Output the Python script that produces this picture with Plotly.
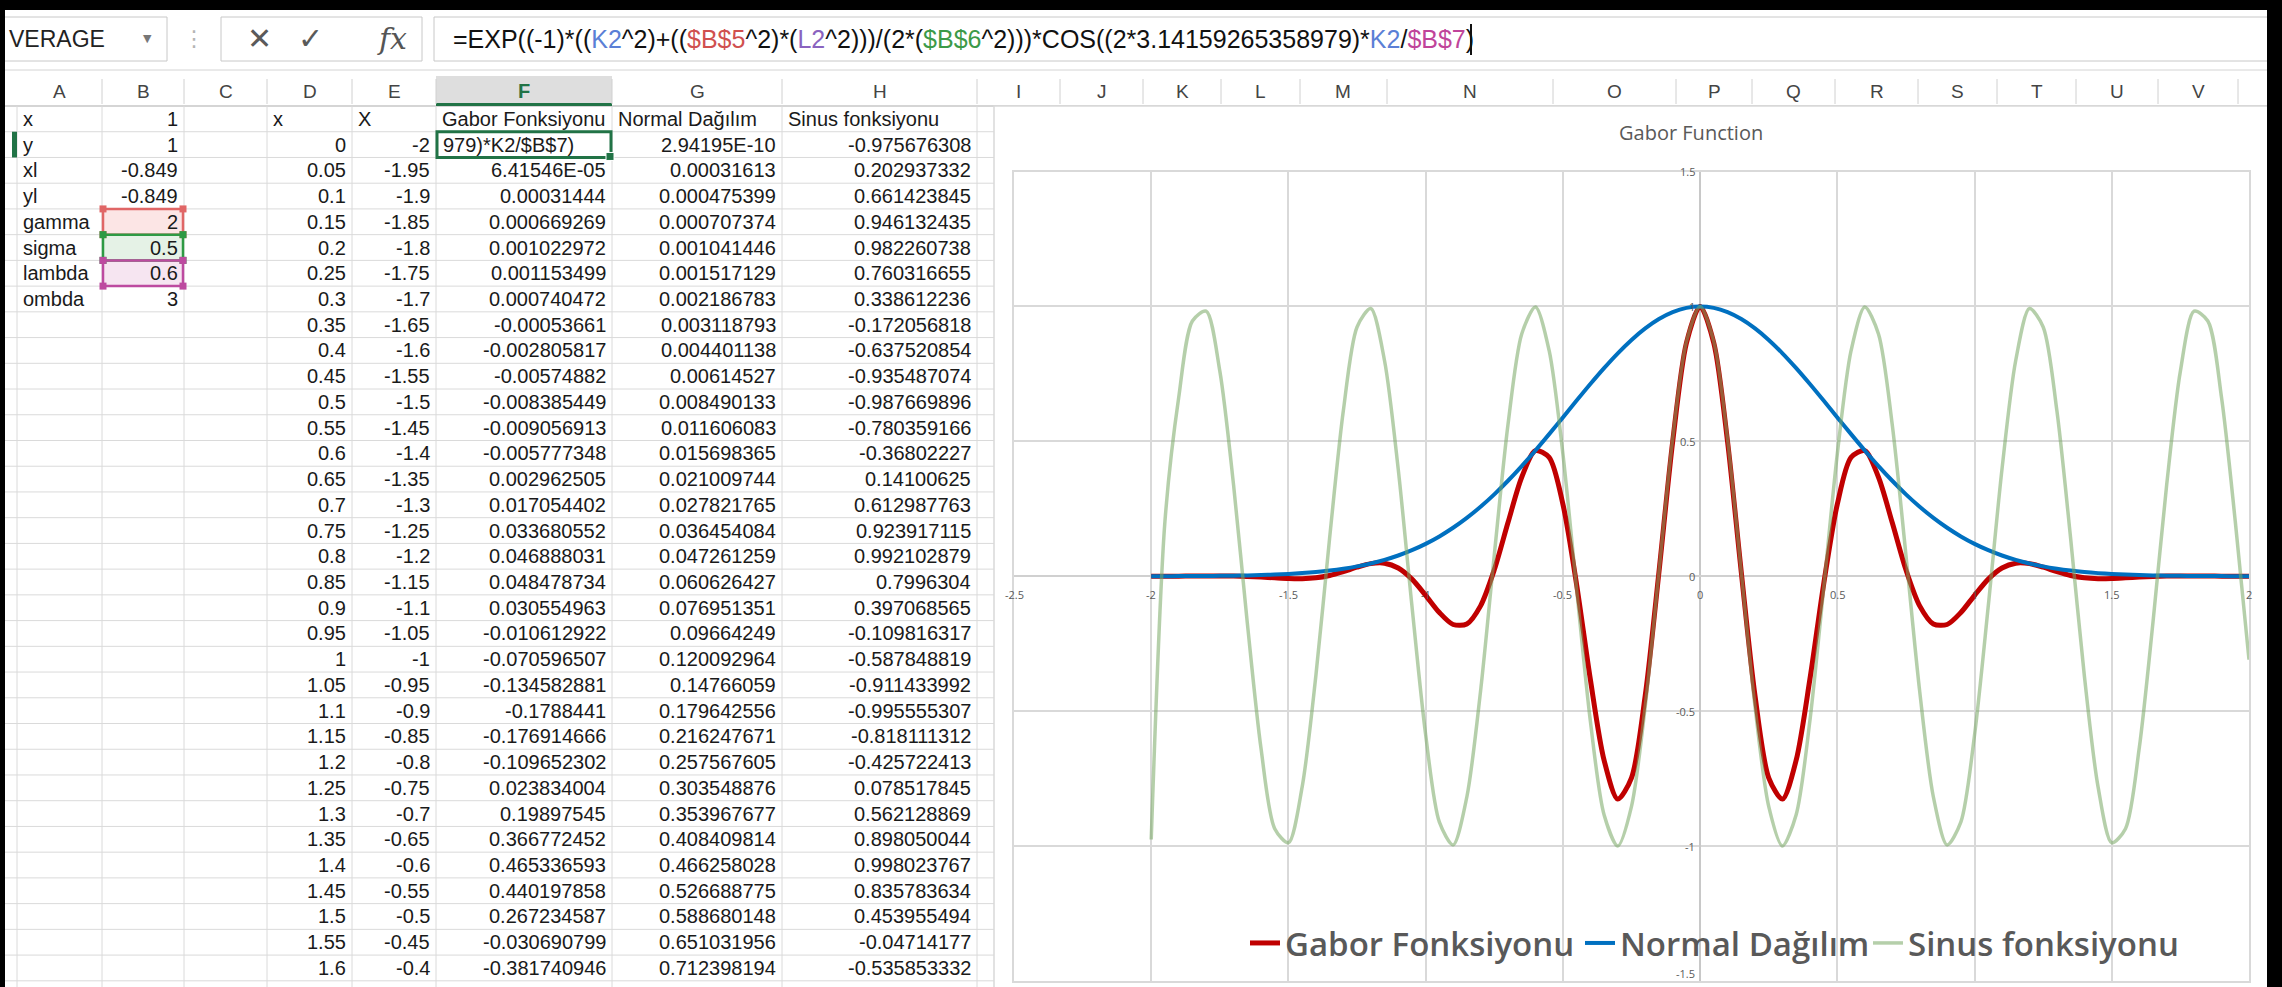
import plotly.graph_objects as go

W, H = 2282, 987

# ------------------------------------------------------------------ data
param_names = ["x", "y", "xl", "yl", "gamma", "sigma", "lambda", "ombda"]
param_values = ["1", "1", "-0.849", "-0.849", "2", "0.5", "0.6", "3"]

header_D, header_E = "x", "X"
header_F, header_G, header_H = "Gabor Fonksiyonu", "Normal Dağılım", "Sinus fonksiyonu"

table_x = ["0", "0.05", "0.1", "0.15", "0.2", "0.25", "0.3", "0.35", "0.4", "0.45", "0.5",
           "0.55", "0.6", "0.65", "0.7", "0.75", "0.8", "0.85", "0.9", "0.95", "1", "1.05",
           "1.1", "1.15", "1.2", "1.25", "1.3", "1.35", "1.4", "1.45", "1.5", "1.55", "1.6"]
table_X = ["-2", "-1.95", "-1.9", "-1.85", "-1.8", "-1.75", "-1.7", "-1.65", "-1.6", "-1.55",
           "-1.5", "-1.45", "-1.4", "-1.35", "-1.3", "-1.25", "-1.2", "-1.15", "-1.1", "-1.05",
           "-1", "-0.95", "-0.9", "-0.85", "-0.8", "-0.75", "-0.7", "-0.65", "-0.6", "-0.55",
           "-0.5", "-0.45", "-0.4"]
table_gabor = ["979)*K2/$B$7)", "6.41546E-05", "0.00031444", "0.000669269", "0.001022972",
               "0.001153499", "0.000740472", "-0.00053661", "-0.002805817", "-0.00574882",
               "-0.008385449", "-0.009056913", "-0.005777348", "0.002962505", "0.017054402",
               "0.033680552", "0.046888031", "0.048478734", "0.030554963", "-0.010612922",
               "-0.070596507", "-0.134582881", "-0.1788441", "-0.176914666", "-0.109652302",
               "0.023834004", "0.19897545", "0.366772452", "0.465336593", "0.440197858",
               "0.267234587", "-0.030690799", "-0.381740946"]
table_normal = ["2.94195E-10", "0.00031613", "0.000475399", "0.000707374", "0.001041446",
                "0.001517129", "0.002186783", "0.003118793", "0.004401138", "0.00614527",
                "0.008490133", "0.011606083", "0.015698365", "0.021009744", "0.027821765",
                "0.036454084", "0.047261259", "0.060626427", "0.076951351", "0.09664249",
                "0.120092964", "0.14766059", "0.179642556", "0.216247671", "0.257567605",
                "0.303548876", "0.353967677", "0.408409814", "0.466258028", "0.526688775",
                "0.588680148", "0.651031956", "0.712398194"]
table_sinus = ["-0.975676308", "0.202937332", "0.661423845", "0.946132435", "0.982260738",
               "0.760316655", "0.338612236", "-0.172056818", "-0.637520854", "-0.935487074",
               "-0.987669896", "-0.780359166", "-0.36802227", "0.14100625", "0.612987763",
               "0.923917115", "0.992102879", "0.7996304", "0.397068565", "-0.109816317",
               "-0.587848819", "-0.911433992", "-0.995555307", "-0.818111312", "-0.425722413",
               "0.078517845", "0.562128869", "0.898050044", "0.998023767", "0.835783634",
               "0.453955494", "-0.04714177", "-0.535853332"]

chart_x = [-2, -1.95, -1.9, -1.85, -1.8, -1.75, -1.7, -1.65, -1.6, -1.55,
           -1.5, -1.45, -1.4, -1.35, -1.3, -1.25, -1.2, -1.15, -1.1, -1.05,
           -1, -0.95, -0.9, -0.85, -0.8, -0.75, -0.7, -0.65, -0.6, -0.55,
           -0.5, -0.45, -0.4, -0.35, -0.3, -0.25, -0.2, -0.15, -0.1, -0.05,
           0,
           0.05, 0.1, 0.15, 0.2, 0.25, 0.3, 0.35, 0.4, 0.45, 0.5,
           0.55, 0.6, 0.65, 0.7, 0.75, 0.8, 0.85, 0.9, 0.95, 1,
           1.05, 1.1, 1.15, 1.2, 1.25, 1.3, 1.35, 1.4, 1.45, 1.5,
           1.55, 1.6, 1.65, 1.7, 1.75, 1.8, 1.85, 1.9, 1.95, 2]
gabor = [0.0, 0.0000642, 0.000314, 0.000669, 0.001023, 0.001153, 0.00074, -0.000537, -0.002806, -0.005749,
         -0.008385, -0.009057, -0.005777, 0.002963, 0.017054, 0.033681, 0.046888, 0.048479, 0.030555, -0.010613,
         -0.070597, -0.134583, -0.178844, -0.176915, -0.109652, 0.023834, 0.198975, 0.366772, 0.465337, 0.440198,
         0.267235, -0.030691, -0.381741, -0.681674, -0.825925, -0.746851, -0.442595, 0.014976, 0.498365, 0.864041,
         1.0,
         0.864041, 0.498365, 0.014976, -0.442595, -0.746851, -0.825925, -0.681674, -0.381741, -0.030691, 0.267235,
         0.440198, 0.465337, 0.366772, 0.198975, 0.023834, -0.109652, -0.176915, -0.178844, -0.134583, -0.070597,
         -0.010613, 0.030555, 0.048479, 0.046888, 0.033681, 0.017054, 0.002963, -0.005777, -0.009057, -0.008385,
         -0.005749, -0.002806, -0.000537, 0.00074, 0.001153, 0.001023, 0.000669, 0.000314, 0.0000642, -0.0000643]
normal = [0.0, 0.000316, 0.000475, 0.000707, 0.001041, 0.001517, 0.002187, 0.003119, 0.004401, 0.006145,
          0.00849, 0.011606, 0.015698, 0.02101, 0.027822, 0.036454, 0.047261, 0.060626, 0.076951, 0.096642,
          0.120093, 0.147661, 0.179643, 0.216248, 0.257568, 0.303549, 0.353968, 0.40841, 0.466258, 0.526689,
          0.58868, 0.651032, 0.712398, 0.771328, 0.826332, 0.875927, 0.918715, 0.95343, 0.979028, 0.994715,
          1.0,
          0.994715, 0.979028, 0.95343, 0.918715, 0.875927, 0.826332, 0.771328, 0.712398, 0.651032, 0.58868,
          0.526689, 0.466258, 0.40841, 0.353968, 0.303549, 0.257568, 0.216248, 0.179643, 0.147661, 0.120093,
          0.096642, 0.076951, 0.060626, 0.047261, 0.036454, 0.027822, 0.02101, 0.015698, 0.011606, 0.00849,
          0.006145, 0.004401, 0.003119, 0.002187, 0.001517, 0.001041, 0.000707, 0.000475, 0.000316, 0.000208]
sinus = [-0.975676, 0.202937, 0.661424, 0.946132, 0.982261, 0.760317, 0.338612, -0.172057, -0.637521, -0.935487,
         -0.98767, -0.780359, -0.368022, 0.141006, 0.612988, 0.923917, 0.992103, 0.79963, 0.397069, -0.109816,
         -0.587849, -0.911434, -0.995555, -0.818111, -0.425722, 0.078518, 0.562129, 0.89805, 0.998024, 0.835784,
         0.453955, -0.047142, -0.535853, -0.883765, -0.999507, -0.85264, -0.481754, 0.015707, 0.509041, 0.868632,
         1.0,
         0.868632, 0.509041, 0.015707, -0.481754, -0.85264, -0.999507, -0.883765, -0.535853, -0.047142, 0.453955,
         0.835784, 0.998024, 0.89805, 0.562129, 0.078518, -0.425722, -0.818111, -0.995555, -0.911434, -0.587849,
         -0.109816, 0.397069, 0.79963, 0.992103, 0.923917, 0.612988, 0.141006, -0.368022, -0.780359, -0.98767,
         -0.935487, -0.637521, -0.172057, 0.338612, 0.760317, 0.982261, 0.946132, 0.661424, 0.202937, -0.309017]

series_names = ["Gabor Fonksiyonu", "Normal Dağılım", "Sinus fonksiyonu"]
chart_title = "Gabor Function"
x_tick_vals = [-2.5, -2, -1.5, -1, -0.5, 0, 0.5, 1, 1.5, 2]
x_tick_text = ["-2.5", "-2", "-1.5", "-1", "-0.5", "0", "0.5", "1", "1.5", "2"]
y_tick_vals = [1.5, 1, 0.5, 0, -0.5, -1, -1.5]
y_tick_text = ["1.5", "1", "0.5", "0", "-0.5", "-1", "-1.5"]

# ------------------------------------------------------------------ helpers
def X(p):
    return p / W


def Y(p):
    return 1 - p / H


shapes = []
annotations = []
CELL_FONT = "Liberation Sans, Arial, sans-serif"
UI_FONT = "Open Sans, sans-serif"


def rect(x0, y0, x1, y1, fill=None, line=None, lw=1.0, layer="below"):
    shapes.append(dict(type="rect", xref="paper", yref="paper", layer=layer,
                       x0=X(x0), x1=X(x1), y0=Y(y1), y1=Y(y0),
                       fillcolor=fill if fill else "rgba(0,0,0,0)",
                       line=dict(color=line if line else "rgba(0,0,0,0)", width=lw if line else 0)))


def hline(x0, x1, y, color, lw=1.0, layer="below"):
    shapes.append(dict(type="line", xref="paper", yref="paper", layer=layer,
                       x0=X(x0), x1=X(x1), y0=Y(y), y1=Y(y), line=dict(color=color, width=lw)))


def vline(x, y0, y1, color, lw=1.0, layer="below"):
    shapes.append(dict(type="line", xref="paper", yref="paper", layer=layer,
                       x0=X(x), x1=X(x), y0=Y(y0), y1=Y(y1), line=dict(color=color, width=lw)))


def text(x, y, s, size, color="#1a1a1a", anchor="left", family=CELL_FONT, weight="normal"):
    annotations.append(dict(xref="paper", yref="paper", x=X(x), y=Y(y), text=s,
                            showarrow=False, xanchor=anchor, yanchor="middle",
                            font=dict(size=size, color=color, family=family, weight=weight)))


# ------------------------------------------------------------------ formula bar
rect(0, 17, 167, 61, fill="white", line="#c8c8c8", lw=1)
text(7, 39, "VERAGE", 23, color="#222222")
text(147, 39, "▼", 11, color="#777777", anchor="center", family="DejaVu Sans")
text(194, 39, "⋮", 22, color="#b5b5b5", anchor="center", family="DejaVu Sans")
rect(221, 17, 422, 61, fill="white", line="#c8c8c8", lw=1)
text(259, 39, "✕", 30, color="#5a5a5a", anchor="center", family="DejaVu Sans")
text(310, 39, "✓", 30, color="#5a5a5a", anchor="center", family="DejaVu Sans")
text(392, 38, "<i>fx</i>", 30, color="#555555", anchor="center", family="DejaVu Serif")
rect(434, 17, 2300, 61, fill="white", line="#c8c8c8", lw=1)

c_k2, c_b5, c_l2, c_b6, c_b7 = "#5b7fd6", "#d0504f", "#8a63bf", "#3c9a48", "#c0449a"
formula_parts = [("=EXP((-1)*((", "#111"), ("K2", c_k2), ("^2)+((", "#111"), ("$B$5", c_b5),
                 ("^2)*(", "#111"), ("L2", c_l2), ("^2)))/(2*(", "#111"), ("$B$6", c_b6),
                 ("^2)))*COS((2*3.14159265358979)*", "#111"), ("K2", c_k2), ("/", "#111"),
                 ("$B$7", c_b7), (")", "#111")]
formula_html = "".join('<span style="color:%s">%s</span>' % (c, t) for t, c in formula_parts)
text(451, 39, formula_html, 25, family="Liberation Sans, sans-serif")
vline(1471, 24, 55, "#111111", 2)
hline(0, W, 70, "#d4d4d4", 1)

# ------------------------------------------------------------------ column headers
col_bounds = [17, 102, 184, 267, 352, 436, 612, 782, 977, 1060, 1143, 1221, 1300, 1387,
              1553, 1676, 1752, 1835, 1918, 1997, 2076, 2158, 2238]
letters = list("ABCDEFGHIJKLMNOPQRSTUV")
HDR_TOP, HDR_BOT = 76, 106
ROW_H = 25.73
N_ROWS = 35

rect(5, HDR_TOP, W, HDR_BOT, fill="#ffffff")
rect(436, HDR_TOP, 612, HDR_BOT, fill="#dedede")
hline(5, W, HDR_BOT, "#ababab", 1)
hline(436, 612, HDR_BOT - 1.5, "#217346", 3)
for i, L in enumerate(letters):
    x0, x1 = col_bounds[i], col_bounds[i + 1]
    vline(x1, HDR_TOP + 3, HDR_BOT - 2, "#d0d0d0", 1)
    if L == "F":
        text((x0 + x1) / 2, 91, L, 20, color="#217346", anchor="center", weight="bold")
    else:
        text((x0 + x1) / 2, 91, L, 19, color="#444444", anchor="center")


def row_top(r):
    return HDR_BOT + (r - 1) * ROW_H


def row_mid(r):
    return HDR_BOT + (r - 0.5) * ROW_H


# ------------------------------------------------------------------ grid
for r in range(1, N_ROWS + 1):
    hline(5, 994, row_top(r) + ROW_H, "#dadada", 1)
for b in col_bounds[:9]:
    vline(b, HDR_BOT, H, "#dadada", 1)
rect(12, row_top(2), 17, row_top(2) + ROW_H, fill="#217346")

# parameter block (A1:B8)
for i, (n, v) in enumerate(zip(param_names, param_values)):
    r = i + 1
    text(21, row_mid(r), n, 20)
    text(180, row_mid(r), v, 20, anchor="right")

ref_cells = [(5, "#e06666", "#fce5e5"), (6, "#2e9a44", "#e5f2e6"), (7, "#bd4aa0", "#f6e5f1")]
for r, lc, fc in ref_cells:
    rect(102, row_top(r), 184, row_top(r) + ROW_H, fill=fc)
for r, lc, fc in ref_cells:
    y0, y1 = row_top(r), row_top(r) + ROW_H
    rect(103, y0, 183, y1, line=lc, lw=2.5)
    for cx in (103, 183):
        for cy in (y0, y1):
            rect(cx - 3.5, cy - 3.5, cx + 3.5, cy + 3.5, fill=lc)

# header row 1 of the table
text(271, row_mid(1), header_D, 20)
text(356, row_mid(1), header_E, 20)
text(440, row_mid(1), header_F, 20)
text(616, row_mid(1), header_G, 20)
text(786, row_mid(1), header_H, 20)

# data rows 2..34
for i in range(len(table_x)):
    r = i + 2
    ym = row_mid(r)
    text(348, ym, table_x[i], 20, anchor="right")
    text(432, ym, table_X[i], 20, anchor="right")
    if i == 0:
        text(441, ym, table_gabor[i], 20, anchor="left")
    else:
        text(608, ym, table_gabor[i], 20, anchor="right")
    text(778, ym, table_normal[i], 20, anchor="right")
    text(973, ym, table_sinus[i], 20, anchor="right")

# active cell F2
rect(437, row_top(2), 611, row_top(2) + ROW_H, line="#217346", lw=3)
rect(606, row_top(2) + ROW_H - 5, 614, row_top(2) + ROW_H + 3, fill="#217346", line="white", lw=1)

# ------------------------------------------------------------------ chart object
rect(994, 106, 2300, 1000, fill="white", line="#d9d9d9", lw=1.5)

# black screen borders
rect(0, 0, W, 10, fill="black", layer="above")
rect(0, 0, 5, H, fill="black", layer="above")
rect(2267, 0, W, H, fill="black", layer="above")

# chart title
text(1691, 132, chart_title, 20, color="#595959", anchor="center", family=UI_FONT)

fig = go.Figure()
line_styles = [dict(color="#C00000", width=5), dict(color="#0070C0", width=4),
               dict(color="rgba(120,168,100,0.55)", width=3.5)]
legend_ids = ["legend", "legend2", "legend3"]
for name, ys, ls, lid in zip(series_names, [gabor, normal, sinus], line_styles, legend_ids):
    fig.add_trace(go.Scatter(x=chart_x, y=ys, mode="lines", name=name,
                             line=dict(shape="spline", smoothing=0.8, **ls), legend=lid))

# axis tick labels placed at the axis crossing like Excel
for v, t in zip(x_tick_vals, x_tick_text):
    annotations.append(dict(xref="x", yref="y", x=v, y=0, text=t, showarrow=False,
                            xanchor="center", yanchor="top", yshift=-9,
                            font=dict(size=11, color="#595959", family=UI_FONT)))
for v, t in zip(y_tick_vals, y_tick_text):
    annotations.append(dict(xref="x", yref="y", x=0, y=v, text=t, showarrow=False,
                            xanchor="right", yanchor="bottom" if v == -1.5 else "middle",
                            xshift=-3, yshift=-2 if v == -1.5 else 0,
                            font=dict(size=11, color="#595959", family=UI_FONT)))

leg_font = dict(size=33, color="#595959", family="Open Sans, sans-serif", weight=600)
leg_common = dict(orientation="h", yanchor="middle", xanchor="left", y=Y(943),
                  bgcolor="rgba(0,0,0,0)", font=leg_font, itemwidth=30)

fig.update_layout(
    width=W, height=H,
    margin=dict(l=0, r=0, t=0, b=0),
    paper_bgcolor="white", plot_bgcolor="rgba(0,0,0,0)",
    showlegend=True,
    legend=dict(x=X(1245), **leg_common),
    legend2=dict(x=X(1580), **leg_common),
    legend3=dict(x=X(1868), **leg_common),
    xaxis=dict(domain=[X(1014), X(2249)], range=[-2.5, 2], dtick=0.5, tick0=0,
               showgrid=True, gridcolor="#d9d9d9", gridwidth=1.5,
               zeroline=True, zerolinecolor="#c8c8c8", zerolinewidth=1.5,
               showticklabels=False, ticks="", showline=True, mirror=True,
               linecolor="#d9d9d9", linewidth=1.5, fixedrange=True),
    yaxis=dict(domain=[Y(981), Y(171.5)], range=[-1.5, 1.5], dtick=0.5, tick0=0,
               showgrid=True, gridcolor="#d9d9d9", gridwidth=1.5,
               zeroline=True, zerolinecolor="#d0d0d0", zerolinewidth=1.5,
               showticklabels=False, ticks="", showline=True, mirror=True,
               linecolor="#d9d9d9", linewidth=1.5, fixedrange=True),
    shapes=shapes,
    annotations=annotations,
)

fig.write_html("out.html")
